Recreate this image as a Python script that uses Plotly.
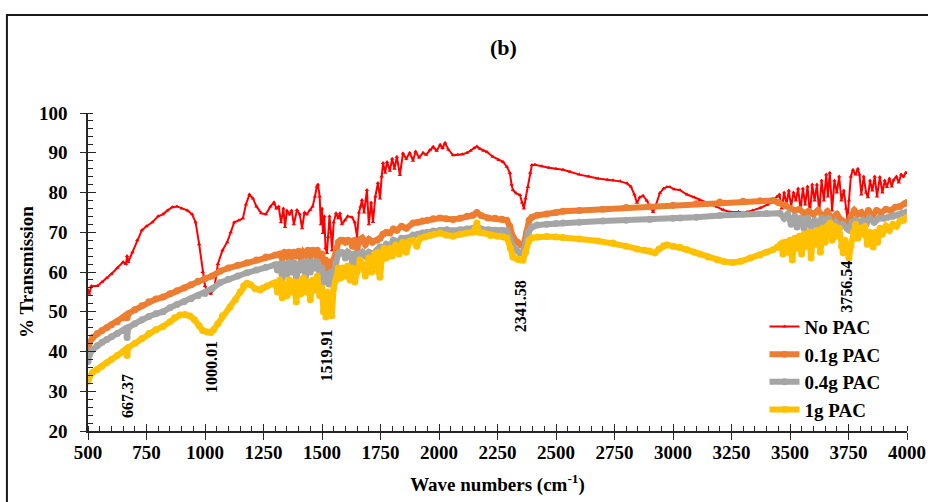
import plotly.graph_objects as go

# FTIR spectra: (wave number cm-1, % transmission)
no_pac = [
    (500, 55.5), (505, 54.5), (515, 56.5), (540, 56.5), (560, 57.5), (580, 58.5), (600, 59.5),
    (625, 61), (650, 62.5), (662, 62), (667, 64), (672, 62.5), (690, 65), (710, 68), (730, 70.5),
    (750, 71.5), (775, 72.5), (800, 74), (820, 74.5), (840, 75.5), (860, 76.3), (880, 76.5),
    (900, 76), (925, 75.5), (945, 74.5), (960, 72.5), (975, 67), (990, 60), (1000, 56.5),
    (1010, 55), (1025, 54.5), (1040, 56), (1055, 62), (1075, 65.5), (1095, 67.5), (1110, 70),
    (1125, 72.5), (1145, 73), (1162, 73.5), (1175, 77), (1190, 79.5), (1205, 78.5), (1220, 76.5),
    (1240, 74.8), (1260, 74.5), (1280, 76.5), (1295, 77.5), (1305, 76), (1315, 76.5), (1325, 72.5),
    (1335, 76), (1342, 71.3), (1350, 75.5), (1360, 74.5), (1370, 75.5), (1380, 72), (1393, 75.6),
    (1405, 74.5), (1415, 71), (1425, 75), (1435, 74.5), (1449, 75.6), (1460, 76.5), (1470, 79),
    (1478, 81.5), (1483, 82), (1490, 79), (1495, 72), (1500, 76), (1504, 69.8), (1510, 74),
    (1515, 66), (1521, 64.8), (1526, 68.8), (1532, 74), (1538, 70), (1543, 65.5), (1550, 72.5),
    (1560, 74.8), (1570, 73.5), (1577, 74.8), (1585, 72), (1598, 73), (1610, 74), (1628, 73.8),
    (1640, 72.5), (1650, 68.8), (1658, 75), (1665, 76.5), (1671, 78.1), (1680, 75), (1692, 80.6),
    (1700, 72), (1710, 77.5), (1718, 72.6), (1728, 79), (1739, 82.4), (1748, 78.5), (1755, 84),
    (1761, 87.4), (1770, 85), (1778, 87.7), (1790, 85.5), (1800, 88.5), (1810, 86), (1820, 89),
    (1833, 84.4), (1846, 89.9), (1860, 88.5), (1875, 90), (1889, 88), (1900, 90.3), (1915, 88.8),
    (1932, 90), (1945, 89.5), (1961, 90.7), (1975, 91.5), (1990, 90.5), (2005, 92), (2015, 91.2),
    (2026, 92.5), (2040, 90.8), (2060, 89.4), (2080, 89.5), (2100, 89.6), (2120, 90), (2135, 90.5),
    (2150, 91.2), (2162, 91.6), (2175, 91), (2190, 90.5), (2205, 90.2), (2230, 89), (2255, 88.2),
    (2274, 87.7), (2290, 86.5), (2303, 84.9), (2310, 82), (2316, 80.6), (2330, 79.8), (2346, 79.4),
    (2355, 77.5), (2363, 76), (2370, 78.5), (2380, 81.4), (2390, 85), (2397, 86.9), (2410, 87),
    (2440, 86.6), (2470, 86.2), (2500, 86), (2530, 85.7), (2560, 85.2), (2600, 84.5), (2640, 84),
    (2680, 83.5), (2720, 83.2), (2744, 83.1), (2775, 82.8), (2803, 82.3), (2820, 81.5),
    (2835, 79.5), (2846, 77.4), (2858, 78.8), (2872, 79.2), (2888, 78), (2902, 76.5), (2915, 75.1),
    (2925, 76.5), (2944, 79.9), (2960, 81), (2974, 81.4), (2987, 81.4), (3005, 80.8), (3030, 80.6),
    (3060, 79.5), (3090, 78.8), (3115, 78.1), (3150, 77.3), (3188, 76.4), (3215, 75.6),
    (3244, 75.1), (3280, 75.1), (3316, 75.1), (3340, 75.5), (3372, 76.1), (3402, 76.9),
    (3420, 77.5), (3444, 78.9), (3455, 79.5), (3465, 76), (3475, 80), (3485, 77), (3495, 80.5),
    (3505, 76.5), (3515, 80), (3525, 78), (3535, 81), (3545, 75.5), (3555, 81), (3565, 77),
    (3575, 81.5), (3585, 74.5), (3595, 82), (3605, 78), (3615, 82), (3625, 75), (3635, 83),
    (3645, 78), (3655, 84.5), (3662, 79), (3670, 85), (3680, 75.5), (3690, 83), (3700, 80),
    (3710, 84), (3720, 78), (3730, 80.5), (3740, 76), (3746, 73), (3752, 78), (3760, 84),
    (3769, 85.7), (3780, 84.5), (3790, 86), (3797, 84.5), (3805, 79.5), (3815, 84), (3825, 80),
    (3833, 78.8), (3842, 83), (3852, 80.5), (3862, 84), (3872, 79), (3884, 83.9), (3895, 80),
    (3905, 83), (3914, 81.4), (3925, 83.5), (3935, 81.5), (3942, 83.1), (3955, 84), (3965, 82.5),
    (3975, 84.5), (3985, 84), (3995, 85), (4000, 84.9),
]

pac_01g = [
    (500, 40.5), (505, 42), (520, 43.5), (540, 44.5), (560, 45.3), (580, 46), (600, 46.7),
    (625, 47.5), (650, 48.5), (660, 49), (667, 48.5), (672, 49.5), (700, 50.5), (730, 51.5),
    (760, 52.5), (790, 53.2), (821, 53.7), (850, 54.5), (880, 55.3), (910, 56), (940, 56.8),
    (970, 57.7), (1000, 58.3), (1030, 59), (1064, 60.2), (1100, 61), (1140, 61.7), (1179, 62.3),
    (1220, 63), (1260, 63.8), (1300, 64.3), (1320, 64.5), (1330, 63.5), (1340, 65), (1350, 64),
    (1360, 65), (1370, 63.7), (1380, 65), (1390, 64), (1400, 65.2), (1410, 63.5), (1420, 65),
    (1430, 64.3), (1440, 65.5), (1450, 64), (1460, 65.5), (1470, 64.5), (1480, 65.5), (1490, 63.5),
    (1500, 64.5), (1508, 62), (1515, 63), (1521, 60.5), (1530, 62.5), (1540, 61), (1550, 63),
    (1560, 66), (1570, 67.5), (1580, 68), (1590, 68), (1600, 67.5), (1610, 68), (1620, 67.8),
    (1630, 66.5), (1640, 68), (1650, 66), (1662, 68), (1672, 68.5), (1685, 67), (1700, 68.2),
    (1715, 67.5), (1735, 68), (1748, 68.5), (1760, 69.5), (1775, 70), (1790, 69.8), (1805, 70.8),
    (1820, 70.5), (1840, 71.5), (1860, 71), (1889, 72.3), (1910, 72.5), (1930, 72.8), (1950, 73),
    (1975, 73.4), (2004, 73.6), (2030, 73.4), (2060, 73.2), (2090, 73.5), (2120, 74), (2145, 74.3),
    (2162, 75), (2180, 74.2), (2210, 73.6), (2240, 73.5), (2270, 73.3), (2290, 73), (2303, 71.5),
    (2316, 68.8), (2335, 67.5), (2350, 66.8), (2362, 67), (2375, 70), (2385, 73), (2397, 73.8),
    (2420, 74.3), (2460, 74.6), (2500, 75), (2530, 75.3), (2600, 75.5), (2700, 75.8), (2800, 76.2),
    (2900, 76.4), (3000, 76.8), (3100, 77.2), (3200, 77.6), (3300, 77.8), (3372, 77.9),
    (3427, 78), (3450, 77.5), (3480, 76.8), (3500, 76), (3520, 75.5), (3540, 75.8), (3560, 74.8),
    (3580, 75.3), (3600, 74.5), (3620, 75.5), (3640, 74), (3660, 75.2), (3680, 73.5), (3700, 74.5),
    (3720, 73), (3735, 72.5), (3744, 71.3), (3752, 71.8), (3760, 74), (3775, 75.5), (3790, 74.5),
    (3805, 75), (3820, 73.5), (3835, 75.5), (3850, 74), (3870, 75.5), (3890, 75), (3910, 75.8),
    (3930, 75.5), (3950, 76.3), (3970, 76.5), (3990, 77.2), (4000, 77.5),
]

pac_04g = [
    (500, 37.5), (505, 39), (520, 40.5), (540, 41.5), (560, 42.3), (580, 43), (600, 43.7),
    (625, 44.5), (650, 45.3), (662, 45.8), (667, 43.5), (672, 46), (700, 47), (730, 48),
    (760, 48.8), (790, 49.5), (821, 50), (850, 51), (880, 51.8), (910, 52.5), (940, 53.3),
    (970, 54), (1000, 54.6), (1030, 55.8), (1064, 57.3), (1100, 58.2), (1140, 59), (1179, 59.8),
    (1220, 60.5), (1260, 61.2), (1300, 61.8), (1310, 60.5), (1320, 62), (1330, 58.5), (1340, 62),
    (1350, 59.5), (1360, 62.3), (1370, 60), (1380, 62.3), (1390, 58), (1400, 62), (1410, 60.5),
    (1420, 62.5), (1430, 59), (1440, 62.5), (1450, 60), (1460, 62.6), (1470, 61), (1480, 62.5),
    (1490, 59), (1500, 61), (1508, 57.5), (1515, 59.5), (1521, 58.7), (1530, 57), (1540, 60),
    (1550, 59), (1560, 62.5), (1570, 64.5), (1580, 65), (1590, 64.8), (1600, 63.5), (1610, 65),
    (1620, 64.5), (1630, 62.5), (1640, 64.5), (1650, 62), (1662, 64.5), (1672, 65), (1685, 64),
    (1700, 65), (1715, 64.5), (1735, 65.5), (1748, 66.3), (1760, 66), (1775, 67), (1790, 66.5),
    (1805, 68), (1820, 67.5), (1840, 68.5), (1860, 68.5), (1889, 69.3), (1910, 69.5), (1930, 69.8),
    (1950, 70), (1975, 70.3), (2004, 70.5), (2034, 70.6), (2060, 70.4), (2090, 70.6), (2120, 70.8),
    (2145, 71), (2162, 71.5), (2180, 70.8), (2210, 70.6), (2240, 70.5), (2270, 70.5), (2290, 70.4),
    (2303, 68.5), (2316, 66.5), (2330, 65.5), (2345, 64.8), (2359, 64.8), (2370, 67), (2382, 70),
    (2397, 71.3), (2420, 71.8), (2460, 72), (2500, 72.2), (2530, 72.3), (2600, 72.5), (2700, 72.8),
    (2800, 73), (2900, 73.2), (3000, 73.5), (3030, 73.6), (3100, 73.8), (3200, 74.2), (3300, 74.5),
    (3400, 74.7), (3457, 74.8), (3475, 73.5), (3490, 74.5), (3505, 72), (3520, 74), (3530, 71.3),
    (3545, 73.5), (3560, 71), (3575, 73.5), (3590, 71.5), (3605, 73), (3620, 71), (3635, 73.5),
    (3650, 71.5), (3665, 73.5), (3680, 71), (3695, 72.5), (3710, 71), (3725, 72), (3744, 71),
    (3755, 70.5), (3765, 72.5), (3780, 73), (3795, 72.5), (3810, 73), (3825, 72), (3840, 73.5),
    (3860, 72.5), (3880, 73.5), (3900, 73.5), (3920, 73.8), (3940, 74), (3960, 74.3), (3980, 74.8),
    (4000, 75.1),
]

pac_1g = [
    (500, 32.5), (505, 33.5), (520, 34.8), (540, 35.5), (560, 36.3), (580, 37.2), (600, 38),
    (625, 39), (650, 40), (662, 40.5), (667, 39), (672, 41), (700, 42), (730, 43.3), (760, 44.5),
    (790, 45.5), (821, 46.3), (850, 47.5), (870, 48.5), (893, 49.2), (915, 49.3), (936, 48.9),
    (955, 48), (975, 46.5), (990, 45.3), (1009, 44.9), (1025, 44.8), (1036, 45.4), (1055, 47),
    (1075, 49), (1107, 51.2), (1130, 53), (1150, 55), (1165, 56.5), (1179, 57.2), (1195, 56.8),
    (1215, 55.8), (1235, 55.5), (1248, 56), (1265, 56.5), (1285, 57), (1300, 57.3), (1310, 55),
    (1320, 58), (1330, 53.5), (1340, 57), (1350, 54), (1360, 58), (1370, 55), (1380, 57.5),
    (1390, 52.5), (1400, 57.5), (1410, 54.5), (1420, 58.5), (1430, 55), (1440, 57.5), (1450, 53),
    (1460, 58), (1470, 55.5), (1480, 59), (1490, 54), (1500, 56), (1506, 50), (1512, 53),
    (1517, 48.7), (1523, 55), (1530, 50.5), (1536, 54), (1542, 49), (1550, 56), (1560, 58),
    (1570, 61), (1580, 58.5), (1590, 61), (1600, 59), (1610, 61.5), (1620, 58), (1630, 61),
    (1640, 57.5), (1650, 60), (1662, 63), (1672, 62), (1685, 59), (1700, 63.5), (1712, 60),
    (1725, 64.5), (1735, 64.8), (1742, 60), (1748, 58.7), (1755, 63), (1765, 66), (1775, 63.5),
    (1790, 66), (1800, 64), (1815, 66.8), (1830, 64.5), (1845, 67.5), (1860, 65), (1875, 67.8),
    (1889, 68), (1905, 66.5), (1920, 68.5), (1940, 68.8), (1960, 69.2), (1980, 69.5), (2004, 69.8),
    (2030, 69.3), (2060, 69), (2090, 69.5), (2120, 69.8), (2145, 70), (2155, 71), (2162, 72.3),
    (2170, 70), (2190, 69.8), (2220, 69.2), (2250, 69), (2275, 68.8), (2290, 68.6), (2305, 66),
    (2316, 63.8), (2335, 63.2), (2350, 63), (2359, 63), (2370, 65), (2385, 68), (2397, 68.6),
    (2420, 68.8), (2460, 68.9), (2500, 68.8), (2530, 68.7), (2600, 68.3), (2680, 67.8),
    (2744, 67.3), (2800, 66.5), (2846, 65.8), (2880, 65.5), (2900, 65.3), (2923, 64.8),
    (2940, 65.8), (2960, 66.6), (2974, 66.8), (3000, 66.5), (3030, 66.2), (3060, 65.6),
    (3090, 65), (3115, 64.5), (3150, 63.8), (3190, 63), (3220, 62.6), (3256, 62.4), (3290, 62.7),
    (3330, 63.5), (3372, 64.3), (3400, 65), (3427, 65.6), (3445, 66.2), (3460, 67), (3470, 64.5),
    (3480, 67.5), (3490, 65), (3500, 68), (3510, 63), (3520, 68.5), (3530, 66), (3540, 69),
    (3550, 64.5), (3560, 69.5), (3570, 66.5), (3580, 70), (3590, 63.5), (3600, 70), (3610, 67),
    (3620, 70.5), (3630, 65), (3640, 71), (3650, 67.5), (3660, 71.5), (3671, 72.3), (3680, 68),
    (3690, 71.5), (3700, 69), (3710, 71), (3720, 66.5), (3727, 64.8), (3735, 68), (3745, 65),
    (3752, 63.5), (3760, 66.5), (3770, 70), (3780, 72), (3790, 68.5), (3800, 71), (3810, 69.5),
    (3820, 71.5), (3830, 67), (3840, 70), (3855, 66.3), (3865, 70), (3875, 67.5), (3885, 71),
    (3895, 69.5), (3910, 71.5), (3925, 70.5), (3940, 72), (3955, 71.5), (3970, 72.8), (3985, 73),
    (4000, 73.8),
]

series_names = ["No PAC", "0.1g PAC", "0.4g PAC", "1g PAC"]
series_data = [no_pac, pac_01g, pac_04g, pac_1g]
series_colors = ["#FF0000", "#ED7D31", "#A5A5A5", "#FFC000"]

# Labelled absorption bands: (text, x position, y position)
band_labels = ["667.37", "1000.01", "1519.91", "2341.58", "3756.54"]
band_label_x = [667, 1028, 1519, 2346, 3741]
band_label_y = [28.8, 36.0, 39.1, 51.4, 56.4]

x_ticks = list(range(500, 4001, 250))
y_ticks = list(range(20, 101, 10))

SERIF = "Liberation Serif, Times New Roman, serif"
AXIS_COLOR = "#262626"

fig = go.Figure()
for name, data, color in zip(series_names, series_data, series_colors):
    xs = [p[0] for p in data]
    ys = [p[1] for p in data]
    if name == "No PAC":
        line = dict(color=color, width=2)
        marker = dict(symbol="triangle-up", size=4, color=color)
    else:
        line = dict(color=color, width=6)
        marker = dict(symbol="circle", size=7, color=color)
    fig.add_trace(go.Scatter(x=xs, y=ys, name=name, mode="lines+markers",
                             line=line, marker=marker, xaxis="x", yaxis="y"))

for txt, bx, by in zip(band_labels, band_label_x, band_label_y):
    fig.add_annotation(x=bx, y=by, xref="x", yref="y", text="<b>" + txt + "</b>",
                       textangle=-90, showarrow=False,
                       font=dict(family=SERIF, size=16, color="black"))

fig.add_annotation(x=0.507, y=1.205, xref="paper", yref="paper", text="<b>(b)</b>",
                   xanchor="center", yanchor="middle", showarrow=False,
                   font=dict(family=SERIF, size=22, color="black"))

# Outer frame around the chart
fig.add_shape(type="rect", xref="paper", yref="paper", x0=-0.099, x1=1.2, y0=-0.5, y1=1.308,
              line=dict(color="#1a1a1a", width=2), fillcolor="rgba(0,0,0,0)", layer="above")

axis_font = dict(family=SERIF, size=19, color="black")
fig.update_layout(
    width=928, height=502,
    margin=dict(l=88, r=21, t=113, b=71, autoexpand=False),
    paper_bgcolor="white", plot_bgcolor="white",
    showlegend=True,
    legend=dict(x=0.826, y=0.388, xanchor="left", yanchor="top",
                font=dict(family=SERIF, size=19, color="black", weight="bold"),
                bgcolor="rgba(0,0,0,0)", tracegroupgap=0, itemwidth=30),
    xaxis=dict(range=[500, 4000], tickvals=x_ticks, showgrid=False, zeroline=False,
               showline=True, linecolor=AXIS_COLOR, linewidth=1.5,
               ticks="outside", ticklen=7, tickwidth=1.3, tickcolor=AXIS_COLOR,
               minor=dict(dtick=50, ticks="inside", ticklen=5, tickcolor=AXIS_COLOR, tickwidth=1),
               ticklabelstandoff=-4,
               tickfont=dict(family=SERIF, size=19, color="black", weight="bold"),
               title=dict(text="<b>Wave numbers (cm<sup>-1</sup>)</b>", font=axis_font, standoff=16)),
    yaxis=dict(range=[20, 100], tickvals=y_ticks, showgrid=False, zeroline=False,
               showline=True, linecolor=AXIS_COLOR, linewidth=1.5,
               ticks="outside", ticklen=6, tickwidth=1.3, tickcolor=AXIS_COLOR,
               minor=dict(dtick=2, ticks="inside", ticklen=5, tickcolor=AXIS_COLOR, tickwidth=1),
               ticklabelstandoff=9,
               tickfont=dict(family=SERIF, size=19, color="black", weight="bold"),
               title=dict(text="<b>% Transmission</b>", font=axis_font, standoff=0)),
    # overlay axes supply the inner half of the crossing major ticks
    xaxis2=dict(overlaying="x", anchor="y", range=[500, 4000], tickvals=x_ticks,
                showticklabels=False, showgrid=False, zeroline=False, showline=False,
                ticks="inside", ticklen=7, tickwidth=1.3, tickcolor=AXIS_COLOR, side="bottom"),
    yaxis2=dict(overlaying="y", anchor="x", range=[20, 100], tickvals=y_ticks,
                showticklabels=False, showgrid=False, zeroline=False, showline=False,
                ticks="inside", ticklen=8, tickwidth=1.3, tickcolor=AXIS_COLOR, side="left"),
)
# empty trace so the overlay axes are drawn
fig.add_trace(go.Scatter(x=[None], y=[None], xaxis="x2", yaxis="y2", showlegend=False,
                         hoverinfo="skip"))

fig.write_html("out.html")
